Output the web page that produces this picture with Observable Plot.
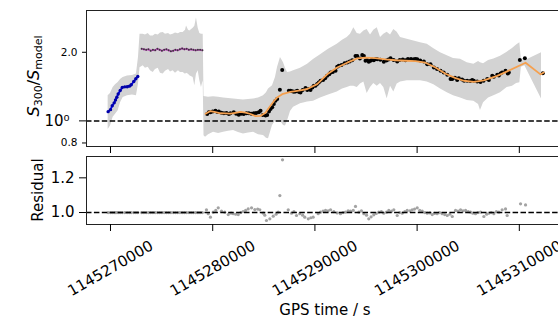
<!DOCTYPE html>
<html><head><meta charset="utf-8">
<script src="https://cdn.jsdelivr.net/npm/d3@7"></script>
<script src="https://cdn.jsdelivr.net/npm/@observablehq/plot@0.6"></script>
<style>
html,body{margin:0;padding:0;background:#fff;overflow:hidden;width:558px;height:320px}
#chart{position:relative;width:568px;height:320px}
#chart svg{display:block}
</style></head><body><div id="chart"></div>
<script>
// GPS reference time (s); all time arrays are offsets from it in kiloseconds
const T0 = 1145270000;
const xTicks = [1145270000, 1145280000, 1145290000, 1145300000, 1145310000];
const topMinorTicks = [0.8, 2.0];
const topMajorTicks = [1];
const resTicks = [1.0, 1.2];

// blue segment
const blueK = [-0.23,0.00,0.17,0.36,0.49,0.62,0.75,0.95,1.15,1.40,1.63,1.85,2.03,2.28,2.48,2.67];
const blueV = [1.098,1.12,1.166,1.20,1.235,1.27,1.312,1.36,1.402,1.41,1.412,1.42,1.44,1.489,1.53,1.566];

// magenta segment
const magK = [3.05,3.27,3.49,3.71,3.93,4.15,4.37,4.59,4.81,5.03,5.25,5.47,5.69,5.91,6.13,6.35,6.57,6.79,7.01,7.23,7.45,7.67,7.89,8.11,8.33,8.55,8.77,8.99];
const magV = [2.07,2.06,2.05,2.06,2.03,2.05,2.04,2.07,2.05,2.03,2.05,2.06,2.04,2.02,2.03,2.05,2.04,2.06,2.08,2.06,2.07,2.05,2.06,2.05,2.04,2.05,2.05,2.04];

// measured points (black)
const ptsK = [9.46,9.62,9.78,10.00,10.27,10.45,10.60,10.85,11.09,11.35,11.58,11.74,12.06,12.30,12.55,12.80,13.04,13.30,13.53,13.78,14.02,14.25,14.51,14.68,14.90,15.17,15.33,15.50,15.66,15.82,15.98,16.14,16.31,16.57,16.80,17.45,17.61,17.78,17.94,18.10,18.27,18.45,18.59,18.80,19.08,19.25,19.40,19.57,19.75,19.89,20.06,20.22,20.38,20.55,20.80,21.00,21.20,21.40,21.53,21.75,22.02,22.18,22.34,22.60,22.90,23.16,23.40,23.65,23.97,24.14,24.40,24.63,24.79,24.95,25.10,25.27,25.44,25.60,25.76,25.95,26.10,26.40,26.74,27.00,27.20,27.40,27.70,28.05,28.30,28.60,28.86,29.10,29.40,29.68,29.85,30.01,30.30,30.66,30.99,31.31,31.64,31.95,32.29,32.60,32.95,33.27,33.44,33.70,33.92,34.08,34.40,34.60,34.90,35.20,35.39,35.55,35.88,36.20,36.50,36.86,37.02,37.35,37.51,37.84,38.00,38.16,38.32,38.65,38.87,38.97,40.05,40.54,42.30];
const ptsV = [1.073,1.090,1.090,1.100,1.109,1.095,1.100,1.085,1.079,1.082,1.073,1.080,1.090,1.075,1.065,1.075,1.073,1.079,1.079,1.076,1.079,1.082,1.090,1.109,1.060,1.055,1.060,1.100,1.128,1.147,1.186,1.226,1.248,1.370,1.670,1.356,1.356,1.350,1.343,1.345,1.356,1.340,1.333,1.366,1.393,1.366,1.379,1.366,1.400,1.426,1.426,1.451,1.474,1.500,1.510,1.540,1.577,1.600,1.630,1.640,1.658,1.726,1.744,1.760,1.790,1.803,1.820,1.846,1.928,1.928,1.880,1.948,1.928,1.834,1.850,1.816,1.834,1.860,1.846,1.870,1.865,1.855,1.816,1.840,1.860,1.884,1.850,1.821,1.850,1.860,1.846,1.870,1.870,1.865,1.870,1.865,1.840,1.821,1.774,1.774,1.714,1.690,1.658,1.630,1.593,1.525,1.525,1.545,1.510,1.540,1.520,1.500,1.500,1.495,1.510,1.500,1.489,1.480,1.500,1.525,1.510,1.577,1.561,1.593,1.580,1.614,1.630,1.658,1.614,1.630,1.852,1.884,1.620];

// model fit (orange)
const fitK = [9.30,9.78,10.27,10.76,11.25,11.74,12.23,12.72,13.21,13.70,14.19,14.67,15.17,15.49,15.98,16.34,16.80,17.61,18.59,19.25,20.22,21.20,22.18,23.16,24.14,24.95,25.93,26.91,27.89,28.86,29.84,30.82,31.80,32.78,33.76,34.57,35.55,36.53,37.84,38.81,40.61,42.07,42.40];
const fitV = [1.075,1.105,1.092,1.080,1.078,1.075,1.085,1.095,1.088,1.072,1.050,1.052,1.085,1.140,1.220,1.270,1.310,1.340,1.360,1.380,1.450,1.600,1.714,1.800,1.880,1.896,1.885,1.862,1.845,1.836,1.830,1.800,1.714,1.610,1.540,1.500,1.484,1.505,1.575,1.650,1.800,1.600,1.630];

// uncertainty band (gray)
const bandK = [-0.23,0.00,0.26,0.49,0.75,0.98,1.24,1.66,2.15,2.54,2.74,2.89,3.20,3.42,3.69,3.91,4.18,4.40,4.67,4.89,5.16,5.38,5.68,5.87,6.13,6.36,6.65,6.85,7.11,7.34,7.44,7.63,7.76,8.09,8.25,8.41,8.58,8.74,8.90,9.07,9.15,9.30,9.59,10.08,10.57,11.06,11.55,12.04,12.52,13.01,13.50,14.00,14.48,14.97,15.26,15.46,15.85,16.14,16.34,16.63,16.93,17.12,17.32,17.61,17.91,18.59,19.28,19.86,20.55,21.33,22.18,22.70,23.16,23.48,23.81,24.14,24.46,24.79,25.11,25.44,25.76,26.10,26.42,26.74,27.07,27.40,27.72,28.05,28.38,29.03,29.68,30.33,30.99,31.64,32.29,32.95,33.56,34.25,34.90,35.55,36.01,36.20,36.50,36.99,37.51,38.16,38.81,39.33,39.73,40.05,40.20,40.54,42.17];
const bandLo = [0.916,0.95,1.037,1.07,1.109,1.20,1.268,1.29,1.30,1.29,1.45,1.71,1.744,1.70,1.72,1.66,1.63,1.68,1.70,1.62,1.604,1.65,1.68,1.64,1.66,1.62,1.66,1.63,1.63,1.60,1.62,1.60,1.577,1.55,1.426,1.60,1.66,1.50,1.40,1.50,0.86,0.848,0.87,0.892,0.88,0.892,0.90,0.907,0.89,0.877,0.885,0.892,0.87,0.862,0.84,0.834,0.954,1.00,1.00,1.00,0.954,0.95,1.00,1.10,1.147,1.19,1.21,1.22,1.26,1.30,1.34,1.38,1.40,1.42,1.42,1.40,1.45,1.48,1.32,1.40,1.46,1.42,1.46,1.40,1.25,1.42,1.34,1.45,1.48,1.50,1.50,1.50,1.48,1.44,1.38,1.33,1.29,1.26,1.23,1.22,1.18,1.11,1.20,1.26,1.29,1.33,1.40,1.42,1.46,1.47,1.72,1.744,1.248];
const bandHi = [1.29,1.32,1.40,1.44,1.474,1.52,1.55,1.572,1.58,1.604,1.90,2.40,2.40,2.38,2.42,2.36,2.36,2.40,2.38,2.43,2.44,2.40,2.42,2.38,2.40,2.43,2.41,2.44,2.44,2.50,2.61,2.50,2.48,2.55,2.60,2.83,2.55,2.42,2.40,2.40,1.28,1.277,1.27,1.277,1.27,1.26,1.255,1.247,1.24,1.235,1.24,1.247,1.26,1.29,1.33,1.379,1.426,1.55,1.714,1.896,1.80,1.70,1.63,1.64,1.66,1.70,1.77,1.86,1.95,2.06,2.17,2.26,2.32,2.40,2.56,2.42,2.40,2.48,2.52,2.38,2.50,2.56,2.32,2.40,2.45,2.38,2.52,2.45,2.32,2.28,2.24,2.20,2.17,2.07,1.99,1.93,1.88,1.865,1.80,1.77,1.82,1.80,1.78,1.84,1.87,1.92,2.00,2.08,2.15,2.20,1.86,1.834,1.99];

// residuals
const flatResidual = 1.0; // blue and magenta segments sit exactly on 1
const resK = [9.39,9.56,9.78,10.05,10.30,10.54,10.86,11.18,11.52,11.80,12.01,12.25,12.50,12.75,12.98,13.22,13.47,13.80,14.12,14.40,14.61,14.94,15.10,15.26,15.59,15.92,16.20,16.41,16.57,16.83,17.39,17.71,17.95,18.20,18.52,18.80,19.01,19.35,19.60,19.83,20.32,20.55,20.80,21.04,21.30,21.53,21.85,22.18,22.50,22.75,22.99,23.25,23.48,23.75,23.97,24.30,24.55,24.79,25.05,25.27,25.50,25.76,26.00,26.25,26.50,26.74,27.00,27.23,27.50,27.72,28.05,28.30,28.54,28.80,29.03,29.30,29.52,29.75,30.01,30.25,30.50,30.75,30.99,31.25,31.48,31.70,31.96,32.20,32.45,32.70,32.95,33.20,33.44,33.76,34.00,34.25,34.50,34.74,35.00,35.23,35.45,35.71,35.95,36.20,36.53,36.80,37.02,37.25,37.51,37.75,38.00,38.32,38.65,38.81,40.12,40.61];
const resV = [1.016,0.993,0.973,1.002,1.012,1.027,1.008,1.002,0.988,0.996,0.993,0.990,0.988,1.000,1.006,1.012,1.021,1.027,1.017,1.020,1.016,0.996,0.985,0.954,0.964,0.979,0.990,1.002,1.098,1.304,1.016,0.996,1.005,0.983,0.993,0.985,0.973,0.964,0.970,0.973,0.993,1.002,1.008,1.012,1.010,1.016,1.005,0.998,0.993,1.000,1.002,1.010,1.008,1.012,1.035,1.002,1.010,0.993,0.985,0.964,0.975,0.987,0.995,1.002,1.005,0.996,1.002,1.012,1.008,1.016,0.983,1.000,0.996,1.005,1.012,1.010,1.016,1.020,1.027,1.012,1.008,1.000,0.996,0.998,0.988,0.995,0.993,1.000,0.993,0.988,0.983,0.990,0.977,1.012,1.008,1.016,1.010,1.012,1.005,1.002,0.996,0.993,1.000,1.002,0.977,0.990,0.996,1.000,0.993,1.005,1.002,1.016,1.021,0.983,1.050,1.044];

// ---- build tables ----
const toT = k => T0 + k * 1000;
const blue = blueK.map((k, i) => ({t: toT(k), v: blueV[i]}));
const mag = magK.map((k, i) => ({t: toT(k), v: magV[i]}));
const pts = ptsK.map((k, i) => ({t: toT(k), v: ptsV[i]}));
const fit = fitK.map((k, i) => ({t: toT(k), v: fitV[i]}));
const band = bandK.map((k, i) => ({t: toT(k), lo: bandLo[i], hi: bandHi[i]}));
const res = [
  ...blueK.map(k => ({t: toT(k), v: flatResidual})),
  ...magK.map(k => ({t: toT(k), v: flatResidual})),
  ...resK.map((k, i) => ({t: toT(k), v: resV[i]}))
];

const xDomain = [T0 - 2348, T0 + 44420];
const FONT = "DejaVu Sans";
const dashed = {stroke: "black", strokeWidth: 1.5, strokeDasharray: "5.5,2.4"};
const baseStyle = {fontFamily: FONT, fontSize: "15px", color: "black", background: "transparent", overflow: "visible"};
const fmt1 = d3.format(".1f");

const topChart = Plot.plot({
  width: 568, height: 150,
  marginLeft: 86, marginRight: 4, marginTop: 10, marginBottom: 4,
  style: baseStyle,
  x: {domain: xDomain, label: null},
  y: {type: "log", domain: [0.772, 3.05], label: null},
  marks: [
    Plot.areaY(band, {x: "t", y1: "lo", y2: "hi", fill: "#d3d3d3"}),
    Plot.ruleY([1], dashed),
    Plot.line(blue, {x: "t", y: "v", stroke: "#0000ff", strokeWidth: 1.8}),
    Plot.dot(blue, {x: "t", y: "v", r: 1.7, fill: "#0000a8"}),
    Plot.line(mag, {x: "t", y: "v", stroke: "#d24bd2", strokeWidth: 1.8}),
    Plot.dot(mag, {x: "t", y: "v", r: 1, fill: "#3a3a3a"}),
    Plot.dot(pts, {x: "t", y: "v", r: 2, fill: "black"}),
    Plot.line(fit, {x: "t", y: "v", stroke: "#f5a04f", strokeWidth: 1.8}),
    Plot.frame({stroke: "#222", strokeWidth: 1}),
    Plot.axisX(xTicks, {tickSize: 7, tickFormat: () => "", label: null}),
    Plot.axisY(topMinorTicks, {tickSize: 4, tickFormat: () => "", label: null}),
    Plot.axisY(topMajorTicks, {tickSize: 7, tickFormat: () => "", label: null}),
    Plot.text(topMinorTicks, {y: d => d, frameAnchor: "left", dx: -9, textAnchor: "end",
      text: d => fmt1(d), fontSize: 10.5, lineAnchor: "middle"}),
    Plot.text(topMajorTicks, {y: d => d, frameAnchor: "left", dx: -17, textAnchor: "end",
      text: () => "10\u2070", fontSize: 15, lineAnchor: "middle"})
  ]
});

const botChart = Plot.plot({
  width: 568, height: 170,
  marginLeft: 86, marginRight: 4, marginTop: 6, marginBottom: 96,
  style: baseStyle,
  x: {domain: xDomain, label: null},
  y: {domain: [0.931, 1.323], label: null},
  marks: [
    Plot.dot(res, {x: "t", y: "v", r: 1.6, fill: "#a3a3a3"}),
    Plot.ruleY([1], dashed),
    Plot.frame({stroke: "#222", strokeWidth: 1}),
    Plot.axisX(xTicks, {tickSize: 7, tickFormat: () => "", label: null}),
    Plot.text(xTicks, {x: d => d, frameAnchor: "bottom", dy: 44, rotate: -30, text: d => String(d),
      fontSize: 15, textAnchor: "middle", lineAnchor: "middle"}),
    Plot.axisY(resTicks, {tickSize: 7, tickPadding: 5, fontSize: 15, tickFormat: fmt1, label: null})
  ]
});

const host = document.getElementById("chart");
host.appendChild(topChart);
host.appendChild(botChart);

// y label of top panel: S_300 / S_model
const lab = d3.select(topChart).append("text")
  .attr("transform", "translate(39,76) rotate(-90)")
  .attr("text-anchor", "middle").attr("font-size", 16).attr("font-family", FONT).attr("fill", "black");
lab.append("tspan").attr("font-style", "italic").text("S");
lab.append("tspan").attr("font-size", 11).attr("dy", 3).text("300");
lab.append("tspan").attr("dy", -3).text("/");
lab.append("tspan").attr("font-style", "italic").text("S");
lab.append("tspan").attr("font-size", 11).attr("dy", 3).text("model");

const bsv = d3.select(botChart);
bsv.append("text").attr("transform", "translate(43,40) rotate(-90)")
  .attr("text-anchor", "middle").attr("font-size", 15).attr("font-family", FONT).attr("fill", "black")
  .text("Residual");
bsv.append("text").attr("x", 325).attr("y", 165)
  .attr("text-anchor", "middle").attr("font-size", 15).attr("font-family", FONT).attr("fill", "black")
  .text("GPS time / s");
</script>
</body></html>
